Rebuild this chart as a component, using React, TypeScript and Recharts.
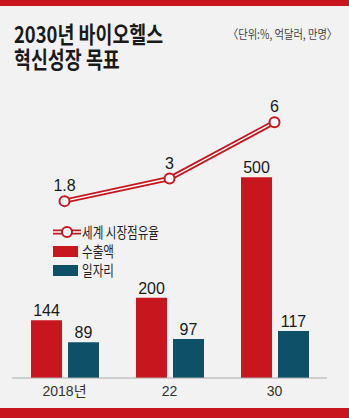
import React from 'react';
import { ComposedChart, Bar, Line, XAxis, YAxis, LabelList } from 'recharts';

const years = ['2018년', '22', '30'];
const exportsBn = [144, 200, 500];
const jobs = [89, 97, 117];
const marketShare = [1.8, 3, 6];

const RED = '#c8161e';
const TEAL = '#0d5068';
const BG = '#f2f2f2';
const NUM_FONT = "'Liberation Sans', 'Noto Sans CJK KR', sans-serif";
const KR_FONT = "'Noto Sans CJK KR', sans-serif";

const data = years.map((year, i) => ({
  year,
  exports: exportsBn[i],
  jobs: jobs[i],
  share: marketShare[i],
}));

const ShareDot = (props: any) => {
  const { cx, cy } = props;
  if (cx == null || cy == null) return null;
  return <circle cx={cx} cy={cy} r={5} fill="#fff" stroke={RED} strokeWidth={2} />;
};

const LegendRow = ({ top, icon, label }: { top: number; icon: React.ReactNode; label: string }) => (
  <div style={{ position: 'absolute', left: 53, top: top - 10, height: 20, display: 'flex', alignItems: 'center' }}>
    <div style={{ width: 28, height: 20, display: 'flex', alignItems: 'center' }}>{icon}</div>
    <div
      style={{
        fontFamily: KR_FONT,
        fontSize: 15,
        lineHeight: '18px',
        color: '#222',
        marginLeft: 1,
        transform: 'scaleX(0.77)',
        transformOrigin: 'left center',
        whiteSpace: 'nowrap',
      }}
    >
      {label}
    </div>
  </div>
);

const App = () => {
  return (
    <div style={{ position: 'absolute', left: 0, top: 0, width: 349, height: 418, background: BG, overflow: 'hidden' }}>
      <div style={{ position: 'absolute', left: 0, top: 0, width: 349, height: 6, background: RED }} />
      <div style={{ position: 'absolute', left: 0, top: 408, width: 349, height: 10, background: RED }} />

      {/* two-line title, one text block */}
      <div
        style={{
          position: 'absolute',
          left: 14,
          top: 21,
          fontFamily: KR_FONT,
          fontWeight: 700,
          fontSize: 23,
          lineHeight: '25px',
          color: '#1a1a1a',
          transform: 'scaleX(0.8)',
          transformOrigin: 'left top',
          whiteSpace: 'nowrap',
        }}
      >
        2030년 바이오헬스
        <br />
        혁신성장 목표
      </div>

      <div
        style={{
          position: 'absolute',
          left: 228,
          top: 27,
          fontFamily: KR_FONT,
          fontSize: 12.5,
          lineHeight: '14px',
          color: '#444',
          transform: 'scaleX(0.82)',
          transformOrigin: 'left top',
          whiteSpace: 'nowrap',
        }}
      >
        〈단위:%, 억달러, 만명〉
      </div>

      <div style={{ position: 'absolute', left: 0, top: 0 }}>
        <ComposedChart
          width={349}
          height={418}
          data={data}
          margin={{ top: 100, right: 22, bottom: 10, left: 12 }}
          barGap={6}
        >
          <XAxis
            dataKey="year"
            height={30}
            tickLine={false}
            axisLine={{ stroke: '#aaa' }}
            tick={{ fontSize: 14, fill: '#333', fontFamily: NUM_FONT }}
          />
          <YAxis yAxisId="bar" hide type="number" scale="linear" domain={[0, 692]} allowDataOverflow />
          <YAxis yAxisId="line" hide type="number" scale="linear" domain={[-7.61, 7.18]} allowDataOverflow />
          <Bar yAxisId="bar" dataKey="exports" fill={RED} barSize={31} isAnimationActive={false}>
            <LabelList dataKey="exports" position="top" offset={4} fill="#1a1a1a" fontSize={16} fontFamily={NUM_FONT} />
          </Bar>
          <Bar yAxisId="bar" dataKey="jobs" fill={TEAL} barSize={31} isAnimationActive={false}>
            <LabelList dataKey="jobs" position="top" offset={4} fill="#1a1a1a" fontSize={16} fontFamily={NUM_FONT} />
          </Bar>
          {/* double line: red outer stroke, white inner stroke */}
          <Line
            yAxisId="line"
            dataKey="share"
            stroke={RED}
            strokeWidth={5}
            dot={false}
            activeDot={false}
            isAnimationActive={false}
          />
          <Line
            yAxisId="line"
            dataKey="share"
            stroke="#fff"
            strokeWidth={1.5}
            dot={<ShareDot />}
            activeDot={false}
            isAnimationActive={false}
          >
            <LabelList dataKey="share" position="top" offset={10} fill="#1a1a1a" fontSize={16} fontFamily={NUM_FONT} />
          </Line>
        </ComposedChart>
      </div>

      <LegendRow
        top={232}
        label="세계 시장점유율"
        icon={
          <svg width={28} height={14}>
            <line x1={0} y1={7} x2={28} y2={7} stroke={RED} strokeWidth={5} />
            <line x1={0} y1={7} x2={28} y2={7} stroke="#fff" strokeWidth={1.5} />
            <circle cx={14} cy={7} r={5} fill="#fff" stroke={RED} strokeWidth={2} />
          </svg>
        }
      />
      <LegendRow top={251} label="수출액" icon={<div style={{ width: 25, height: 11, background: RED }} />} />
      <LegendRow top={270} label="일자리" icon={<div style={{ width: 25, height: 11, background: TEAL }} />} />
    </div>
  );
};

export default App;
